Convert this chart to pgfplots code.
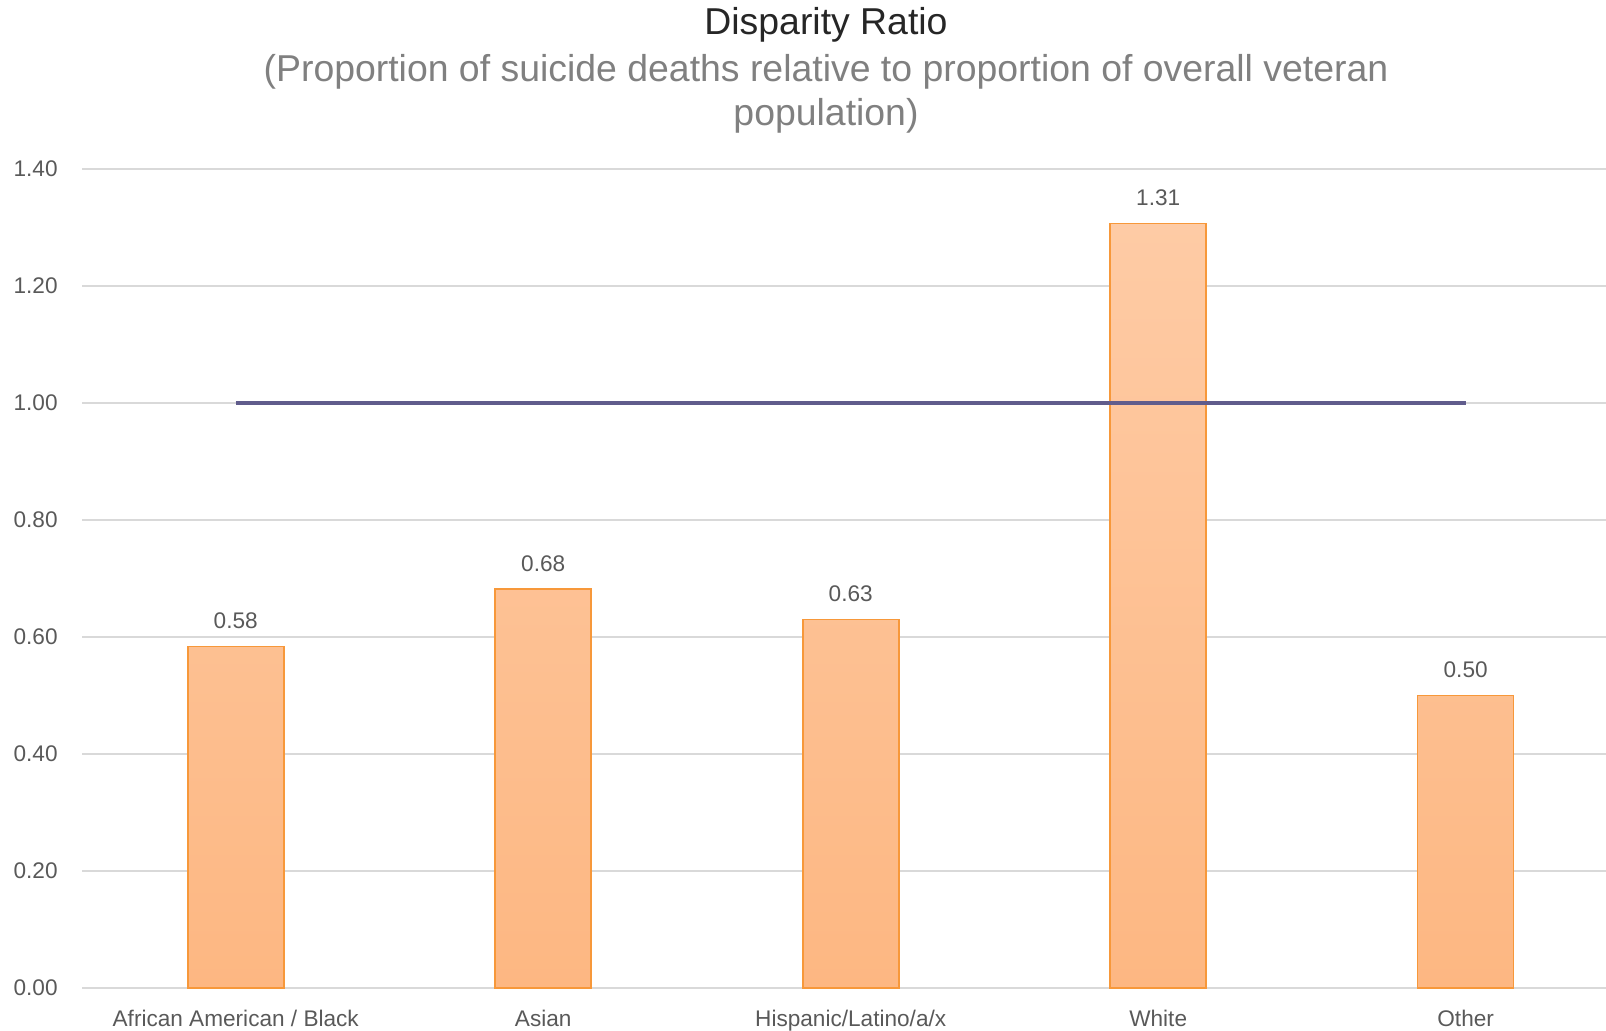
\documentclass[border=0pt]{standalone}
\usepackage{pgfplots}
\pgfplotsset{compat=1.18}
\usepackage{fontspec}
\setmainfont{Liberation Sans}
\definecolor{bartop}{HTML}{FECBA5}
\definecolor{barbot}{HTML}{FDB782}
\definecolor{baredge}{HTML}{F7983A}
\definecolor{refline}{HTML}{605C8C}
\definecolor{gridc}{HTML}{D9D9D9}
\definecolor{ticktext}{HTML}{595959}
\definecolor{subt}{HTML}{808080}
\begin{document}
\begin{tikzpicture}
\useasboundingbox (0,0) rectangle (803pt,515pt);
\begin{scope}
\clip (0,0) rectangle (803pt,515pt);
\begin{axis}[
  at={(41pt,21pt)}, anchor=south west,
  scale only axis, width=768.7pt, height=409.5pt,
  xmin=-0.5, xmax=4.5, ymin=0, ymax=1.4,
  enlarge x limits=false, enlarge y limits=false,
  axis x line=bottom, axis y line=left,
  x axis line style={-, draw=gridc, line width=1.2pt},
  y axis line style={draw=none},
  major tick length=0pt,
  xtick={0,1,2,3,4},
  xticklabels={African American / Black, Asian, Hispanic/Latino/a/x, White, Other},
  ytick={0,0.2,0.4,0.6,0.8,1.0,1.2,1.4},
  ymajorgrids, major grid style={draw=gridc, line width=0.6pt},
  /pgf/number format/assume math mode=true,
  yticklabel style={/pgf/number format/fixed, /pgf/number format/fixed zerofill, /pgf/number format/precision=2, font=\fontsize{11.3}{13}\selectfont, text=ticktext, inner sep=0pt, xshift=-12pt},
  xticklabel style={font=\fontsize{11.3}{13}\selectfont, text=ticktext, inner sep=0pt, yshift=-11pt},
  clip=false,
]
\addplot[ybar, bar width=48pt, draw=baredge, line width=0.8pt, top color=bartop, bottom color=barbot,
  nodes near coords, nodes near coords style={font=\fontsize{11.3}{13}\selectfont, text=ticktext, inner sep=0pt, anchor=south, yshift=8.5pt},
  point meta=explicit,
  every node near coord/.append style={/pgf/number format/fixed, /pgf/number format/fixed zerofill, /pgf/number format/precision=2, /pgf/number format/assume math mode=true}]
  coordinates {(0,0.584) [0.58] (1,0.682) [0.68] (2,0.630) [0.63] (3,1.307) [1.31] (4,0.500) [0.50]};
\addplot[sharp plot, draw=refline, line width=1.6pt, mark=none] coordinates {(0,1) (4,1)};
\end{axis}
\end{scope}
\node[font=\fontsize{18.7}{22}\selectfont, text=black!85] at (413pt,502.5pt) {Disparity Ratio};
\node[font=\fontsize{18.7}{22}\selectfont, text=subt] at (413pt,479.2pt) {(Proportion of suicide deaths relative to proportion of overall veteran};
\node[font=\fontsize{18.7}{22}\selectfont, text=subt] at (413pt,457.2pt) {population)};
\end{tikzpicture}
\end{document}
